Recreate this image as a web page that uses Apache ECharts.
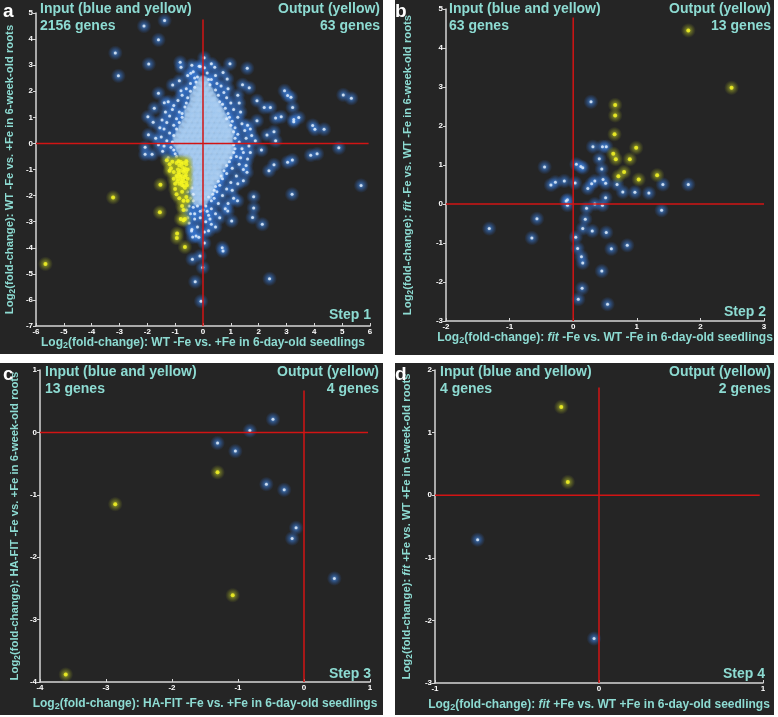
<!DOCTYPE html>
<html><head><meta charset="utf-8">
<script src="https://cdn.jsdelivr.net/npm/echarts@6/dist/echarts.min.js"></script>
<style>html,body{margin:0;padding:0;background:#fff}#c{width:778px;height:717px}</style>
</head><body><div id="c"></div>
<script>
// ---------- Panel a (Step 1) ----------
const aXRange = [-6, 6], aYRange = [-7, 5];
const aBlueOutliers = [[-2.12,4.50],[-1.38,4.71],[-1.60,3.97],[-3.15,3.47],[-3.04,2.59],[-1.95,3.04],[-0.82,3.11],[-0.79,2.92],[-0.14,2.96],[0.04,3.28],[0.97,3.05],[1.59,2.88],[-1.60,1.92],[-1.39,1.56],[-1.09,2.24],[-0.79,2.02],[-1.98,1.02],[-1.79,0.81],[-1.47,0.90],[-1.96,0.33],[-2.08,-0.15],[-2.08,-0.42],[-1.83,-0.42],[2.93,2.02],[3.04,1.84],[3.16,1.77],[3.22,1.38],[5.04,1.86],[5.33,1.73],[2.61,0.97],[2.81,1.02],[3.26,0.92],[3.44,0.99],[3.26,0.83],[3.94,0.69],[4.02,0.54],[4.35,0.54],[4.88,-0.17],[3.87,-0.45],[4.10,-0.40],[3.04,-0.72],[3.21,-0.64],[2.55,-0.82],[2.37,-1.05],[5.68,-1.61],[3.20,-1.95],[1.82,-2.04],[1.82,-2.48],[1.78,-2.84],[2.13,-3.10],[0.69,-4.00],[0.72,-4.12],[-0.38,-4.44],[-0.11,-4.32],[-0.01,-4.76],[-0.28,-5.30],[2.39,-5.19],[-0.07,-6.05],[0.05,-3.82],[1.58,-1.11],[2.30,0.32],[2.61,0.10],[1.94,0.87],[1.66,2.13],[1.42,2.25],[0.87,2.47],[0.72,2.72],[0.42,2.92],[-0.44,2.69],[-0.30,2.51],[2.20,1.38],[2.42,1.38],[1.88,0.10],[1.03,-2.97],[0.89,-2.59],[1.24,-2.20],[-0.37,-3.59],[-0.41,-3.36],[1.94,1.64],[1.45,-1.43],[2.1,-0.25],[2.55,0.45],[1.7,0.55],[1.25,1.85],[-1.75,1.35]];
const aBlueCloud = [[-0.55,2.6],[-0.35,2.75],[-0.2,2.55],[0.15,2.7],[0.3,2.45],[0.45,2.6],[-0.45,2.3],[0.5,2.3],[0.65,2.2],[-0.6,2.1],[0.75,1.95],[-0.75,1.85],[0.85,1.75],[-0.9,1.65],[0.6,1.6],[-0.6,1.55],[1.0,1.55],[-1.05,1.45],[0.25,2.25],[-0.3,2.15],[0.05,2.9],[-0.1,2.95],
[-1.1,1.3],[1.1,1.3],[-0.85,1.2],[0.9,1.15],[-1.2,1.05],[1.25,1.0],[-0.95,0.95],[1.05,0.85],[-1.3,0.8],[1.4,0.75],[-1.05,0.7],[1.15,0.6],[-1.4,0.55],[1.5,0.5],[-1.2,0.4],[1.25,0.35],[0.95,1.0],[-0.75,1.0],[0.8,1.35],
[-1.5,0.25],[1.55,0.2],[-1.3,0.1],[1.3,0.05],[-1.6,-0.05],[1.65,-0.1],[-1.15,-0.15],[1.15,-0.2],[-1.45,-0.3],[1.45,-0.35],[-1.0,-0.4],[1.2,-0.5],[-1.25,-0.55],[1.6,-0.6],
[0.95,-0.7],[1.3,-0.8],[1.05,-0.95],[1.45,-1.0],[0.85,-1.15],[1.2,-1.25],[0.7,-1.35],[1.0,-1.5],[0.6,-1.6],[0.85,-1.75],[0.5,-1.85],[0.7,-2.0],[0.4,-2.1],[0.55,-2.3],[-0.55,-1.0],[-0.6,-1.3],[-0.5,-1.55],[-0.55,-1.85],[-0.45,-2.1],[-0.5,-2.4],[-0.35,-2.45],[-0.45,-2.7],[0.3,-2.5],[0.45,-2.7],[0.2,-2.75],[-0.3,-2.9],[-0.5,-3.05],[0.1,-3.0],[0.3,-3.1],[-0.2,-3.2],[-0.4,-3.3],[0.05,-3.4],[-0.1,-2.6],[0.1,-2.4],[-0.25,-3.55],[0.35,-1.95],[-0.35,-2.2],[1.1,-2.1],[0.9,-2.3],[-0.45,-0.9],
[-0.25,2.35],[0.2,2.45],[-0.45,2.0],[0.45,2.05],[-0.55,1.75],[0.55,1.85],[-0.65,1.4],[0.7,1.5],[-0.75,1.15],[0.85,0.95],[-0.85,0.8],[1.0,0.7],[-0.95,0.55],[1.1,0.45],[-1.05,0.3],[1.15,0.2],[-1.1,0.05],[1.1,-0.05],[-1.05,-0.25],[1.1,-0.35],[-0.95,-0.5],[1.0,-0.55],[0.85,-0.85],[0.75,-1.05],[0.65,-1.25],[0.55,-1.45],[0.45,-1.65],[0.4,-1.8],[-0.5,-1.2],[-0.45,-1.4],[-0.4,-1.7],[-0.35,-1.95],[0.3,-2.2],[0.2,-2.05],[-0.2,-2.4],[0.0,-2.55],[-0.1,-2.85],[0.15,-2.6],[-0.3,-2.7],[0.25,-2.9],
[-1.35,1.2],[-1.25,1.6],[1.3,1.55],[1.35,1.2],[-1.55,0.6],[1.6,0.7],[-1.7,0.2],[1.75,0.3],[-1.4,-0.1],[1.4,-0.2],[1.7,-0.35],[1.35,-0.55],[1.55,-0.85],[1.25,-1.55],[1.05,-1.8],[0.8,-2.5],[0.6,-2.85],[0.45,-3.2],[-0.6,-2.55],[-0.55,-2.85],[-0.15,-3.6],[0.2,-3.35],[-0.85,2.4],[0.9,2.1],[-0.4,3.0],[0.3,3.05]];
// dense light core of the cloud, rows of [y, x-values]
const aCoreRows = [
 [2.4,[0]],[2.2,[-0.1,0.1]],[2.0,[-0.2,0,0.2]],[1.8,[-0.3,-0.1,0.1,0.3]],[1.6,[-0.3,-0.1,0.1,0.3,0.4]],
 [1.4,[-0.4,-0.2,0,0.2,0.4,0.5]],[1.2,[-0.5,-0.3,-0.1,0.1,0.3,0.5,0.6]],[1.0,[-0.5,-0.3,-0.1,0.1,0.3,0.5,0.7]],
 [0.8,[-0.6,-0.4,-0.2,0,0.2,0.4,0.6,0.8]],[0.6,[-0.7,-0.5,-0.3,-0.1,0.1,0.3,0.5,0.7,0.85]],
 [0.4,[-0.8,-0.6,-0.4,-0.2,0,0.2,0.4,0.6,0.8,0.95]],[0.2,[-0.9,-0.7,-0.5,-0.3,-0.1,0.1,0.3,0.5,0.7,0.9]],
 [0.0,[-0.9,-0.7,-0.5,-0.3,-0.1,0.1,0.3,0.5,0.7,0.9]],[-0.2,[-0.8,-0.6,-0.4,-0.2,0,0.2,0.4,0.6,0.8,0.95]],
 [-0.4,[-0.7,-0.5,-0.3,-0.1,0.1,0.3,0.5,0.7,0.9]],[-0.6,[-0.6,-0.4,-0.2,0,0.2,0.4,0.6,0.8]],
 [-0.8,[-0.5,-0.3,-0.1,0.1,0.3,0.5,0.7]],[-1.0,[-0.5,-0.3,-0.1,0.1,0.3,0.5]],[-1.2,[-0.4,-0.2,0,0.2,0.4,0.55]],
 [-1.4,[-0.4,-0.2,0,0.2,0.4]],[-1.6,[-0.35,-0.15,0.05,0.25]],[-1.8,[-0.3,-0.1,0.1,0.25]],[-2.0,[-0.25,-0.05,0.15]],[-2.2,[-0.2,0]]];
const aYellow = [[-0.8,-0.7],[-0.7,-0.75],[-0.6,-0.8],[-0.85,-0.85],[-0.75,-0.9],[-0.65,-0.95],[-0.9,-1.0],[-0.8,-1.05],[-0.7,-1.1],[-0.6,-1.1],[-0.85,-1.2],[-0.75,-1.25],[-0.65,-1.3],[-0.9,-1.35],[-0.8,-1.4],[-0.7,-1.45],[-0.6,-1.5],[-0.85,-1.55],[-0.75,-1.6],[-0.65,-1.7],[-0.95,-0.75],[-0.55,-1.0],[-0.55,-1.35],
[-1.3,-0.65],[-1.2,-0.8],[-1.1,-0.7],[-1.15,-0.95],[-1.05,-1.1],[-1.05,-1.35],[-1.0,-1.55],[-1.0,-1.75],[-0.95,-1.95],[-0.85,-2.1],[-0.75,-1.85],[-0.6,-2.05],
[-1.53,-1.58],[-3.23,-2.07],[-1.55,-2.64],[-0.75,-2.4],[-0.7,-2.55],[-0.8,-2.9],[-0.65,-2.9],[-0.7,-2.95],[-0.93,-3.45],[-0.94,-3.63],[-0.65,-3.97],[-5.66,-4.62],[-0.55,-2.2],[-0.7,-2.2],
[-0.78,-0.78],[-0.68,-1.02],[-0.88,-1.12],[-0.72,-1.35],[-0.82,-1.28],[-0.62,-1.22],[-0.92,-1.45],[-0.7,-1.62],[-0.58,-1.6],[-0.77,-1.5],[-0.95,-1.25],[-1.2,-1.05],[-0.88,-0.68],[-0.6,-0.68]];
const aCrossH = [[-6,0],[5.95,0]], aCrossV = [[0,4.75],[0,-7]];

// ---------- Panel b (Step 2) ----------
const bXRange = [-2, 3], bYRange = [-3, 5];
const bYellow = [[1.81,4.45],[2.49,2.98],[0.66,2.54],[0.66,2.27],[0.65,1.79],[0.63,1.29],[0.67,1.15],[0.99,1.44],[0.89,1.15],[0.80,0.82],[0.71,0.71],[1.03,0.63],[1.32,0.74]];
const bBlue = [[0.28,2.62],[0.31,1.47],[0.46,1.47],[0.52,1.47],[0.41,1.16],[0.05,1.02],[0.12,0.96],[0.15,0.93],[-0.45,0.95],[0.45,0.90],[0.47,0.63],[0.51,0.53],[0.34,0.59],[0.29,0.52],[0.23,0.40],[-0.14,0.59],[-0.28,0.56],[-0.35,0.49],[0.03,0.54],[0.69,0.50],[0.78,0.31],[0.97,0.30],[1.19,0.28],[1.41,0.50],[1.81,0.50],[0.51,0.16],[-0.09,0.11],[-0.09,-0.03],[0.34,0.0],[0.46,-0.03],[0.21,-0.11],[1.39,-0.16],[-0.57,-0.38],[0.19,-0.39],[0.15,-0.63],[0.30,-0.69],[0.52,-0.73],[-1.32,-0.63],[-0.65,-0.87],[0.04,-0.85],[0.07,-1.14],[0.60,-1.15],[0.85,-1.06],[0.13,-1.35],[0.15,-1.51],[0.45,-1.72],[0.14,-2.16],[0.08,-2.44],[0.54,-2.57],[-0.11,0.08]];
const bCrossH = [[-2,0],[3,0]], bCrossV = [[0,4.78],[0,-3]];

// ---------- Panel c (Step 3) ----------
const cXRange = [-4, 1], cYRange = [-4, 1];
const cYellow = [[-3.61,-3.88],[-2.86,-1.15],[-1.31,-0.64],[-1.08,-2.61]];
const cBlue = [[-0.47,0.21],[-0.82,0.03],[-1.31,-0.17],[-1.04,-0.30],[-0.57,-0.83],[-0.30,-0.92],[-0.12,-1.53],[-0.18,-1.70],[0.46,-2.34]];
const cCrossH = [[-4,0],[0.97,0]], cCrossV = [[0,0.67],[0,-4]];

// ---------- Panel d (Step 4) ----------
const dXRange = [-1, 1], dYRange = [-3, 2];
const dYellow = [[-0.23,1.41],[-0.19,0.21]];
const dBlue = [[-0.74,-0.71],[-0.03,-2.29]];
const dCrossH = [[-1,0],[0.98,0]], dCrossV = [[0,1.72],[0,-3]];

// ---------- Texts ----------
const inputLabel = 'Input (blue and yellow)', outputLabel = 'Output (yellow)';
const inputCounts = ['2156 genes', '63 genes', '13 genes', '4 genes'];
const outputCounts = ['63 genes', '13 genes', '4 genes', '2 genes'];
const stepLabels = ['Step 1', 'Step 2', 'Step 3', 'Step 4'];
const panelLetters = ['a', 'b', 'c', 'd'];
const xNames = [['', 'WT -Fe vs. +Fe in 6-day-old seedlings'], ['fit', ' -Fe vs. WT -Fe in 6-day-old seedlings'], ['', 'HA-FIT -Fe vs. +Fe in 6-day-old seedlings'], ['fit', ' +Fe vs. WT +Fe in 6-day-old seedlings']];
const yNames = [['', 'WT -Fe vs. +Fe in 6-week-old roots'], ['fit', ' -Fe vs. WT -Fe in 6-week-old roots'], ['', 'HA-FIT -Fe vs. +Fe in 6-week-old roots'], ['fit', ' +Fe vs. WT +Fe in 6-week-old roots']];

// ---------- Build chart ----------
const FONT = '"Liberation Sans", Arial, sans-serif';
const CY = '#8ddbd2';
const BG = '#252525';
const aCore = [];
aCoreRows.forEach(r => r[1].forEach(x => aCore.push([x, r[0]])));

const panels = [
  {grid:{left:36, top:13, width:334, height:313}, xr:aXRange, yr:aYRange, blue:aBlueOutliers.concat(aBlueCloud), core:aCore, yellow:aYellow, h:aCrossH, v:aCrossV, xGap:7, yGap:19},
  {grid:{left:446, top:9, width:318, height:312}, xr:bXRange, yr:bYRange, blue:bBlue, core:null, yellow:bYellow, h:bCrossH, v:bCrossV, xGap:9, yGap:31},
  {grid:{left:40, top:370, width:330, height:312}, xr:cXRange, yr:cYRange, blue:cBlue, core:null, yellow:cYellow, h:cCrossH, v:cCrossV, xGap:15, yGap:18},
  {grid:{left:435, top:370, width:328, height:313}, xr:dXRange, yr:dYRange, blue:dBlue, core:null, yellow:dYellow, h:dCrossH, v:dCrossV, xGap:15, yGap:21}
];

function makeRich(sz) {
  return {
    t:{color:CY, fontSize:sz, fontWeight:'bold', fontFamily:FONT, lineHeight:14, verticalAlign:'middle'},
    i:{color:CY, fontSize:sz, fontWeight:'bold', fontStyle:'italic', fontFamily:FONT, lineHeight:14, verticalAlign:'middle'},
    s:{color:CY, fontSize:sz * 0.75, fontWeight:'bold', fontFamily:FONT, lineHeight:6, verticalAlign:'bottom'}
  };
}
function richName(n) {
  return '{t|Log}{s|2}{t|(fold-change): }' + (n[0] ? '{i|' + n[0] + '}' : '') + '{t|' + n[1] + '}';
}
const blueGlowColor = {type:'radial', x:0.5, y:0.5, r:0.5, colorStops:[
  {offset:0, color:'rgba(150,200,255,0.95)'}, {offset:0.35, color:'rgba(60,130,225,0.65)'}, {offset:1, color:'rgba(40,100,200,0)'}]};
const coreColor = {type:'radial', x:0.5, y:0.5, r:0.5, colorStops:[
  {offset:0, color:'rgba(178,210,243,1)'}, {offset:0.65, color:'rgba(165,202,240,1)'}, {offset:1, color:'rgba(150,195,240,0)'}]};
const yellowGlowColor = {type:'radial', x:0.5, y:0.5, r:0.5, colorStops:[
  {offset:0, color:'rgba(240,245,60,0.95)'}, {offset:0.35, color:'rgba(175,185,40,0.65)'}, {offset:1, color:'rgba(130,140,30,0)'}]};

const axisLineStyle = {color:'#d6d6d6', width:1.5};
const grids = [], xAxes = [], yAxes = [], series = [];
panels.forEach((p, i) => {
  grids.push(p.grid);
  xAxes.push({gridIndex:i, type:'value', min:p.xr[0], max:p.xr[1], interval:1,
    axisLine:{show:true, onZero:false, lineStyle:axisLineStyle},
    axisTick:{show:true, inside:true, length:3, lineStyle:{color:'#d6d6d6', width:1}},
    splitLine:{show:false},
    axisLabel:{color:'#ffffff', fontSize:8, fontWeight:'bold', fontFamily:FONT, margin:2},
    name:richName(xNames[i]), nameLocation:'middle', nameGap:p.xGap,
    nameTextStyle:{color:CY, fontSize:12, fontWeight:'bold', fontFamily:FONT, rich:makeRich(12), verticalAlign:'top'}});
  yAxes.push({gridIndex:i, type:'value', min:p.yr[0], max:p.yr[1], interval:1,
    axisLine:{show:true, onZero:false, lineStyle:axisLineStyle},
    axisTick:{show:true, inside:false, length:3, lineStyle:{color:'#d6d6d6', width:1}},
    splitLine:{show:false},
    axisLabel:{color:'#ffffff', fontSize:8, fontWeight:'bold', fontFamily:FONT, margin:3},
    name:richName(yNames[i]), nameLocation:'middle', nameGap:p.yGap,
    nameTextStyle:{color:CY, fontSize:11.3, fontWeight:'bold', fontFamily:FONT, rich:makeRich(11.3)}});
  const base = {xAxisIndex:i, yAxisIndex:i, type:'scatter', silent:true};
  series.push(Object.assign({}, base, {name:'blueGlow'+i, data:p.blue, symbolSize:15,
    itemStyle:{color:blueGlowColor}}));
  if (p.core) series.push(Object.assign({}, base, {name:'core'+i, data:p.core, symbolSize:12.5,
    itemStyle:{color:coreColor}}));
  series.push(Object.assign({}, base, {name:'blue'+i, data:p.blue, symbolSize:3,
    itemStyle:{color:'#e4f0ff'}}));
  series.push(Object.assign({}, base, {name:'yellowGlow'+i, data:p.yellow, symbolSize:15,
    itemStyle:{color:yellowGlowColor}}));
  series.push(Object.assign({}, base, {name:'yellow'+i, data:p.yellow, symbolSize:4,
    itemStyle:{color:'#f6f622'}}));
  [p.h, p.v].forEach(d => series.push({type:'line', xAxisIndex:i, yAxisIndex:i, data:d, symbol:'none', silent:true,
    lineStyle:{color:'#d21414', width:1.5}, z:5}));
});

function txt(x, y, s, align, size, color) {
  return {type:'text', x:x, y:y, z:100, silent:true,
    style:{text:s, fill:color, font:'bold ' + size + 'px ' + FONT, textAlign:align, align:align, textVerticalAlign:'top', verticalAlign:'top'}};
}
const panelBoxes = [[0,0,383,354],[395,0,379,355],[0,363,383,352],[395,363,379,352]];
const textPos = [
  {inX:40, inY:2, outX:380, stepX:371, stepY:308, letX:3, letY:2},
  {inX:449, inY:2, outX:771, stepX:766, stepY:305, letX:395, letY:2},
  {inX:45, inY:365, outX:379, stepX:371, stepY:667, letX:3, letY:365},
  {inX:440, inY:365, outX:771, stepX:765, stepY:667, letX:395, letY:365}
];
const graphics = [];
panelBoxes.forEach(b => graphics.push({type:'rect', z:-100, silent:true, shape:{x:b[0], y:b[1], width:b[2], height:b[3]}, style:{fill:BG}}));
textPos.forEach((t, i) => {
  graphics.push(txt(t.inX, t.inY, inputLabel, 'left', 14, CY));
  graphics.push(txt(t.inX, t.inY + 17, inputCounts[i], 'left', 14, CY));
  graphics.push(txt(t.outX, t.inY, outputLabel, 'right', 14, CY));
  graphics.push(txt(t.outX, t.inY + 17, outputCounts[i], 'right', 14, CY));
  graphics.push(txt(t.stepX, t.stepY, stepLabels[i], 'right', 14, CY));
  graphics.push(txt(t.letX, t.letY, panelLetters[i], 'left', 19, '#ffffff'));
});

const chart = echarts.init(document.getElementById('c'), null, {renderer:'canvas'});
chart.setOption({
  backgroundColor:'#ffffff', animation:false,
  grid:grids, xAxis:xAxes, yAxis:yAxes, series:series, graphic:{elements:graphics}
});
</script></body></html>
